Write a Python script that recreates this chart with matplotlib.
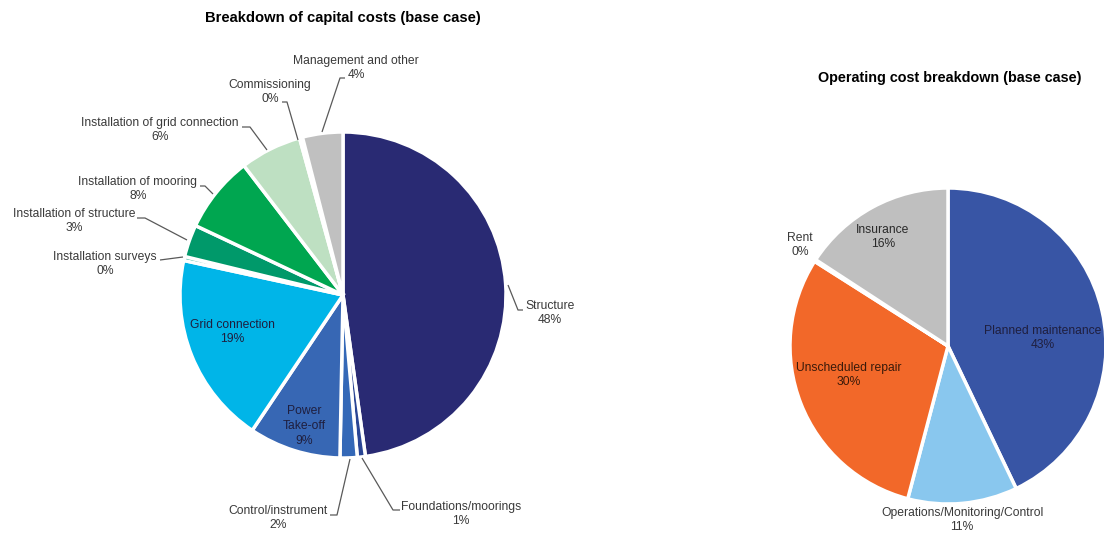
import matplotlib.pyplot as plt

plt.rcParams['font.family'] = ['Liberation Sans', 'DejaVu Sans']

# capital cost breakdown (% of total), clockwise from 12 o'clock
capex_labels = ["Structure", "Foundations/moorings", "Control/instrument", "Power\nTake-off",
                "Grid connection", "Installation surveys", "Installation of structure",
                "Installation of mooring", "Installation of grid connection",
                "Commissioning", "Management and other"]
capex_values = [47.8, 0.8, 1.7, 9.1, 19.0, 0.4, 3.2, 7.6, 6.1, 0.3, 4.0]
capex_colors = ["#292A73", "#2A4594", "#3468B7", "#3767B4", "#00B5E8", "#17A589",
                "#00996A", "#00A650", "#BEE0C2", "#E6F2E6", "#C0C0C0"]

# operating cost breakdown (%)
opex_labels = ["Planned maintenance", "Operations/Monitoring/Control", "Unscheduled repair",
               "Rent", "Insurance"]
opex_values = [42.9, 11.2, 29.9, 0.2, 15.8]
opex_colors = ["#3855A5", "#89C7EE", "#F26829", "#FFC000", "#BFBFBF"]

W, H = 1104, 537
TXT = "#3A3A3A"
FS = 8.7

fig = plt.figure(figsize=(W / 100, H / 100), dpi=100)
ax = fig.add_axes([0, 0, 1, 1])
ax.set_xlim(0, W)
ax.set_ylim(0, H)
ax.set_aspect("equal")
ax.axis("off")


def Y(py):
    # pixel row (from top) -> data y
    return H - py


def label(x, y, name, pct, color=TXT):
    ax.text(x, Y(y), f"{name}\n{pct:.0f}%", ha="center", va="center",
            fontsize=FS, color=color, linespacing=1.3)


def leader(pts):
    xs = [p[0] for p in pts]
    ys = [Y(p[1]) for p in pts]
    ax.plot(xs, ys, color="#595959", lw=0.9, solid_capstyle="butt")


# left pie
ax.pie(capex_values, colors=capex_colors, startangle=90, counterclock=False,
       center=(343, Y(295)), radius=163, frame=True,
       wedgeprops=dict(edgecolor="white", linewidth=2.5))
ax.text(343, Y(18), "Breakdown of capital costs (base case)", ha="center", va="center",
        fontsize=10.6, fontweight="bold", color="black")

pos_in = {3: (304, 426), 4: (232, 332)}
pos_out = {
    0: ((550, 313), [(508, 285), (518, 310), (523, 310)]),
    1: ((461, 514), [(362, 458), (393, 510), (400, 510)]),
    2: ((278, 518), [(350, 459), (337, 515), (330, 515)]),
    5: ((105, 264), [(183, 257), (160, 260)]),
    6: ((74, 221), [(187, 240), (145, 218), (137, 218)]),
    7: ((138, 189), [(213, 194), (205, 186), (200, 186)]),
    8: ((160, 130), [(267, 150), (250, 127), (242, 127)]),
    9: ((270, 92), [(298, 140), (287, 102), (282, 102)]),
    10: ((356, 68), [(322, 132), (340, 78), (345, 78)]),
}
for i, (name, v) in enumerate(zip(capex_labels, capex_values)):
    if i in pos_in:
        label(*pos_in[i], name, v, color="#1F1F3F")
    else:
        (tx, ty), pts = pos_out[i]
        label(tx, ty, name, v)
        leader(pts)

# right pie
ax.pie(opex_values, colors=opex_colors, startangle=90, counterclock=False,
       center=(948, Y(346)), radius=158, frame=True,
       wedgeprops=dict(edgecolor="white", linewidth=2.5))
ax.text(950, Y(78), "Operating cost breakdown (base case)", ha="center", va="center",
        fontsize=10.4, fontweight="bold", color="black")

opex_pos = [(1043, 338), (962, 520), (849, 375), (800, 245), (883, 237)]
opex_txt = ["#1F1F3F", TXT, "#3A1A0A", TXT, "#2A2A2A"]
for name, v, p, c in zip(opex_labels, opex_values, opex_pos, opex_txt):
    label(*p, name, v, color=c)

ax.set_xlim(0, W)
ax.set_ylim(0, H)
fig.savefig("out.png", dpi=100)
